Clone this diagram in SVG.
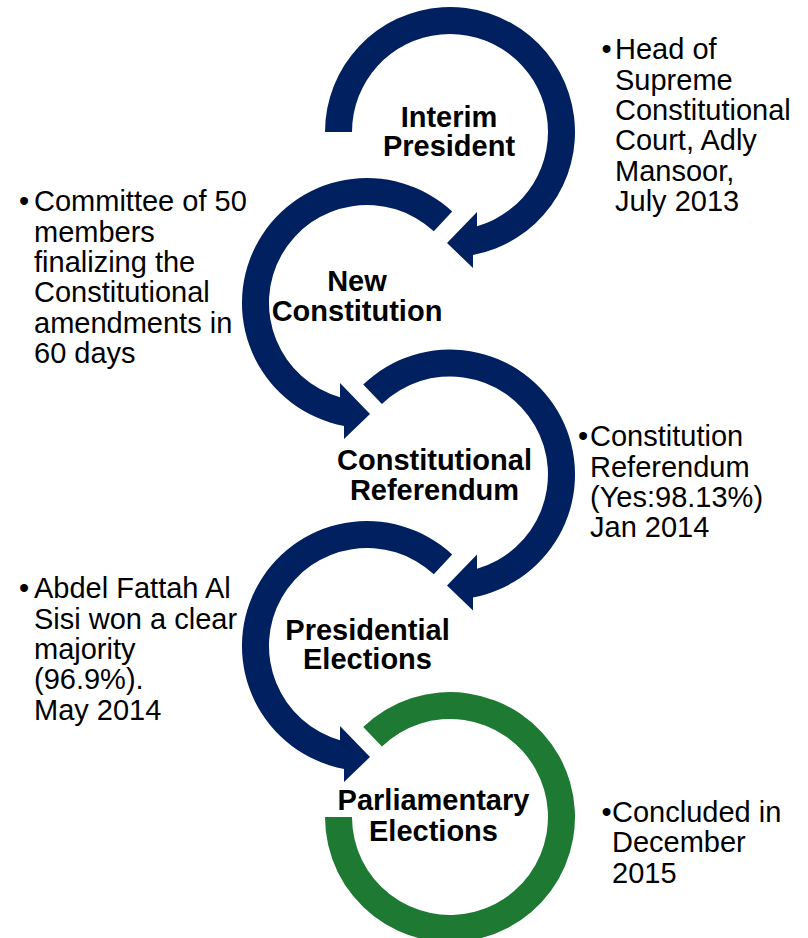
<svg xmlns="http://www.w3.org/2000/svg" width="808" height="938" viewBox="0 0 808 938">
<style>
.navy{fill:#002060}
.green{fill:#1E7A32}
.lbl{font-family:"Liberation Sans",Arial,sans-serif;font-weight:bold;font-size:29px;fill:#000;text-anchor:middle}
.side{font-family:"Liberation Sans",Arial,sans-serif;font-size:29px;fill:#000}
</style>
<rect width="808" height="938" fill="#fff"/>
<defs>
<path id="cw" d="M -125 0 A 125 125 0 1 1 23 122.9 L 23 136 L -3 111 L 27 80 L 27 94.2 A 98 98 0 1 0 -98 0 Z"/>
<path id="ccw" d="M 85.2 -91.4 A 125 125 0 1 0 -23 122.9 L -23 136 L 3 111 L -27 80 L -27 94.2 A 98 98 0 1 1 66.8 -71.7 Z"/>
<path id="cw2" d="M -86.8 -89.9 A 125 125 0 1 1 23 122.9 L 23 136 L -3 111 L 27 80 L 27 94.2 A 98 98 0 1 0 -68.1 -70.5 Z"/>
</defs>
<g id="connectors">
<use href="#cw" class="navy" transform="translate(450,132)"/>
<use href="#ccw" class="navy" transform="translate(367,303)"/>
<use href="#cw2" class="navy" transform="translate(450,474.5)"/>
<use href="#ccw" class="navy" transform="translate(367,646)"/>
<path class="green" transform="translate(450,817)" d="M -86.8 -89.9 A 125 125 0 1 1 -125 0 L -98 0 A 98 98 0 1 0 -68.1 -70.5 Z"/>
</g>
<g id="node-interim">
<text class="lbl" x="449" y="127">Interim</text>
<text class="lbl" x="449" y="156">President</text>
</g>
<g id="node-newconst">
<text class="lbl" x="357" y="291">New</text>
<text class="lbl" x="357" y="320.5">Constitution</text>
</g>
<g id="node-referendum">
<text class="lbl" x="434.5" y="470">Constitutional</text>
<text class="lbl" x="434.5" y="499.5">Referendum</text>
</g>
<g id="node-presidential">
<text class="lbl" x="367.5" y="640">Presidential</text>
<text class="lbl" x="367.5" y="669">Elections</text>
</g>
<g id="node-parliamentary">
<text class="lbl" x="433.5" y="810">Parliamentary</text>
<text class="lbl" x="433.5" y="841">Elections</text>
</g>
<g id="note-interim">
<text class="side" x="601.5" y="59">•</text>
<text class="side">
<tspan x="615" y="59">Head of</tspan>
<tspan x="615" y="89.5">Supreme</tspan>
<tspan x="615" y="120">Constitutional</tspan>
<tspan x="615" y="150">Court, Adly</tspan>
<tspan x="615" y="180.5">Mansoor,</tspan>
<tspan x="615" y="211">July 2013</tspan>
</text>
</g>
<g id="note-newconst">
<text class="side" x="19" y="211">•</text>
<text class="side">
<tspan x="34" y="211">Committee of 50</tspan>
<tspan x="34" y="241.5">members</tspan>
<tspan x="34" y="272">finalizing the</tspan>
<tspan x="34" y="302">Constitutional</tspan>
<tspan x="34" y="332.5">amendments in</tspan>
<tspan x="34" y="363">60 days</tspan>
</text>
</g>
<g id="note-referendum">
<text class="side" x="578" y="446">•</text>
<text class="side">
<tspan x="590" y="446">Constitution</tspan>
<tspan x="590" y="476.5">Referendum</tspan>
<tspan x="590" y="507">(Yes:98.13%)</tspan>
<tspan x="590" y="537">Jan 2014</tspan>
</text>
</g>
<g id="note-presidential">
<text class="side" x="19" y="598">•</text>
<text class="side">
<tspan x="34" y="598">Abdel Fattah Al</tspan>
<tspan x="34" y="628.5">Sisi won a clear</tspan>
<tspan x="34" y="659">majority</tspan>
<tspan x="34" y="689">(96.9%).</tspan>
<tspan x="34" y="719.5">May 2014</tspan>
</text>
</g>
<g id="note-parliamentary">
<text class="side" x="601.5" y="822">•</text>
<text class="side">
<tspan x="612" y="822">Concluded in</tspan>
<tspan x="612" y="852">December</tspan>
<tspan x="612" y="883">2015</tspan>
</text>
</g>
</svg>
